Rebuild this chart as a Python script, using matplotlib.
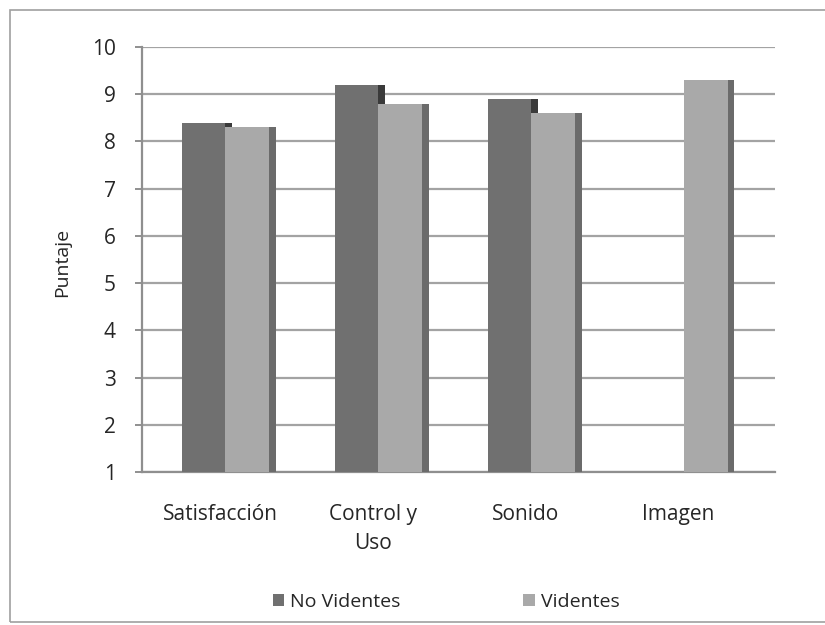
import numpy as np
import matplotlib
matplotlib.use("Agg")
import matplotlib.pyplot as plt
from matplotlib.patches import Rectangle, Patch

plt.rcParams['font.family'] = ['Open Sans', 'DejaVu Sans']

categories = ["Satisfacción", "Control y\nUso", "Sonido", "Imagen"]
no_videntes = [8.4, 9.2, 8.9, np.nan]
videntes = [8.3, 8.8, 8.6, 9.3]
yticks = [1, 2, 3, 4, 5, 6, 7, 8, 9, 10]

nv_front, nv_side = "#707070", "#3a3a3a"
v_front, v_side = "#a9a9a9", "#6b6b6b"
grid_col = "#a3a3a3"
text_col = "#262626"
fs = 15

W, H = 825, 625
fig = plt.figure(figsize=(W / 100, H / 100), dpi=100)
fig.patch.set_facecolor("white")

# outer chart frame
fig.add_artist(Rectangle((10 / W, 3 / H), 1.2, 1 - 13 / H, transform=fig.transFigure,
                         fill=False, edgecolor="#a0a0a0", linewidth=1.2))

ax = fig.add_axes([142 / W, (H - 472) / H, (775 - 142) / W, (472 - 47) / H])
ax.set_xlim(-0.51, 3.63)
ax.set_ylim(1, 10)

bw = 0.285   # front face width
sw = 0.045   # side face width
x = np.arange(len(categories))


def draw_series(xs, vals, front, side):
    xs = np.asarray(xs)
    vals = np.asarray(vals, dtype=float)
    heights = vals - 1
    ax.bar(xs + bw + sw / 2, heights, width=sw, bottom=1, color=side,
           linewidth=0, zorder=3)
    ax.bar(xs + bw / 2, heights, width=bw, bottom=1, color=front,
           linewidth=0, zorder=3)


draw_series(x - 0.25, no_videntes, nv_front, nv_side)
draw_series(x + 0.035, videntes, v_front, v_side)

ax.set_yticks(yticks)
ax.set_yticklabels([str(t) for t in yticks])
ax.set_xticks(x)
ax.set_xticklabels(categories, linespacing=1.5)
ax.yaxis.grid(True, color=grid_col, linewidth=1.6, zorder=0)
ax.set_axisbelow(True)

for s in ["top", "right"]:
    ax.spines[s].set_visible(False)
ax.spines["left"].set_color("#8f8f8f")
ax.spines["left"].set_linewidth(1.6)
ax.spines["bottom"].set_color("#8f8f8f")
ax.spines["bottom"].set_linewidth(1.6)

ax.tick_params(axis="y", length=5, width=1.4, color="#8f8f8f", pad=14,
               labelsize=fs, labelcolor=text_col)
ax.tick_params(axis="x", length=0, pad=23, labelsize=fs, labelcolor=text_col)
for lbl in ax.get_xticklabels():
    lbl.set_va("top")

fig.text(62 / W, 1 - 262 / H, "Puntaje", rotation=90, ha="center", va="center",
         fontsize=fs - 1, color=text_col)

handles = [Patch(facecolor=nv_front, edgecolor="none", label="No Videntes"),
           Patch(facecolor=v_front, edgecolor="none", label="Videntes")]
fig.legend(handles=handles, loc="center", bbox_to_anchor=(446 / W, 1 - 602 / H),
           ncol=2, frameon=False, fontsize=14, handlelength=0.6,
           handleheight=0.6, handletextpad=0.3, columnspacing=6.3,
           labelcolor=text_col)

fig.savefig("out.png", dpi=100, facecolor="white")
